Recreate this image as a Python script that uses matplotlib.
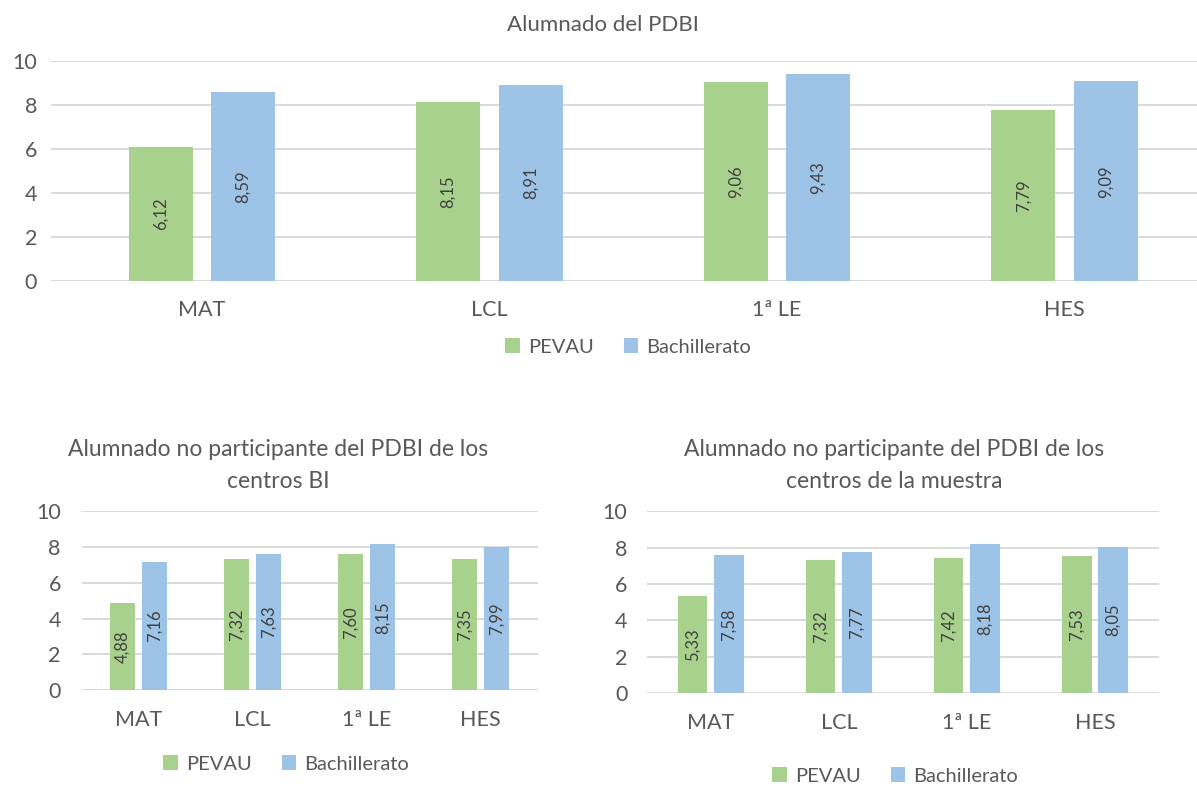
import matplotlib
matplotlib.use("Agg")
import matplotlib.pyplot as plt
import numpy as np

plt.rcParams['font.family'] = ['Lato', 'DejaVu Sans']

categories = ["MAT", "LCL", "1ª LE", "HES"]
series_names = ["PEVAU", "Bachillerato"]

pdbi_pevau = [6.12, 8.15, 9.06, 7.79]
pdbi_bach = [8.59, 8.91, 9.43, 9.09]

nobi_pevau = [4.88, 7.32, 7.60, 7.35]
nobi_bach = [7.16, 7.63, 8.15, 7.99]

muestra_pevau = [5.33, 7.32, 7.42, 7.53]
muestra_bach = [7.58, 7.77, 8.18, 8.05]

yticks = [0, 2, 4, 6, 8, 10]

GREEN = "#A9D18E"
BLUE = "#9DC3E6"
GRID = "#D9D9D9"
TXT = "#595959"
LBL = "#404040"

W, H = 1197, 787
fig = plt.figure(figsize=(W / 100, H / 100), dpi=100)


def px_axes(x0, x1, y_top, y_bot):
    return fig.add_axes([x0 / W, 1 - y_bot / H, (x1 - x0) / W, (y_bot - y_top) / H])


def draw(ax, pev, bac, xlim, bw, off, ypad, xpad, fs_tick, fs_lbl):
    x = np.arange(len(categories))
    b1 = ax.bar(x - off, pev, bw, color=GREEN, edgecolor='none', zorder=3, label=series_names[0])
    b2 = ax.bar(x + off, bac, bw, color=BLUE, edgecolor='none', zorder=3, label=series_names[1])
    for bars, vals in ((b1, pev), (b2, bac)):
        for r, v in zip(bars, vals):
            ax.text(r.get_x() + r.get_width() / 2, v / 2, f"{v:.2f}".replace(".", ","),
                    rotation=90, ha='center', va='center', color=LBL, fontsize=fs_lbl, zorder=4)
    ax.set_xlim(*xlim)
    ax.set_ylim(0, 10.02)
    ax.set_yticks(yticks)
    ax.set_xticks(x)
    ax.set_xticklabels(categories)
    for s in ax.spines.values():
        s.set_visible(False)
    ax.tick_params(axis='both', length=0, colors=TXT, labelsize=fs_tick)
    ax.tick_params(axis='y', pad=ypad)
    ax.tick_params(axis='x', pad=xpad)
    ax.yaxis.grid(True, color=GRID, linewidth=1.4, zorder=0)
    ax.set_axisbelow(True)
    return b1, b2


def legend(handles, cx, cy):
    fig.legend(handles, series_names, loc='center', bbox_to_anchor=(cx / W, 1 - cy / H),
               ncol=2, frameon=False, fontsize=14.5, labelcolor=TXT,
               handlelength=0.7, handleheight=0.7, handletextpad=0.4, columnspacing=1.5)


# Top chart
ax1 = px_axes(51, 1197, 61, 281)
h1 = draw(ax1, pdbi_pevau, pdbi_bach, (-0.525, 3.461), 0.223, 0.143, 10, 14, 15.5, 12)
fig.text(603 / W, 1 - 25 / H, "Alumnado del PDBI", ha='center', va='center', color=TXT, fontsize=16)
legend(h1, 628, 347)

# Bottom left
ax2 = px_axes(81.7, 537.7, 510.7, 690.3)
h2 = draw(ax2, nobi_pevau, nobi_bach, (-0.5, 3.5), 0.222, 0.14, 15, 14, 15.5, 12)
fig.text(278 / W, 1 - 450 / H, "Alumnado no participante del PDBI de los", ha='center', va='center',
         color=TXT, fontsize=16.5)
fig.text(278 / W, 1 - 482 / H, "centros BI", ha='center', va='center', color=TXT, fontsize=16.5)
legend(h2, 286, 764)

# Bottom right
ax3 = px_axes(646.8, 1159, 510.7, 693.3)
h3 = draw(ax3, muestra_pevau, muestra_bach, (-0.5, 3.5), 0.232, 0.143, 14, 14, 15.5, 12)
fig.text(894 / W, 1 - 450 / H, "Alumnado no participante del PDBI de los", ha='center', va='center',
         color=TXT, fontsize=16.5)
fig.text(894 / W, 1 - 481 / H, "centros de la muestra", ha='center', va='center', color=TXT, fontsize=16.5)
legend(h3, 895, 776)

fig.savefig("out.png", dpi=100)
